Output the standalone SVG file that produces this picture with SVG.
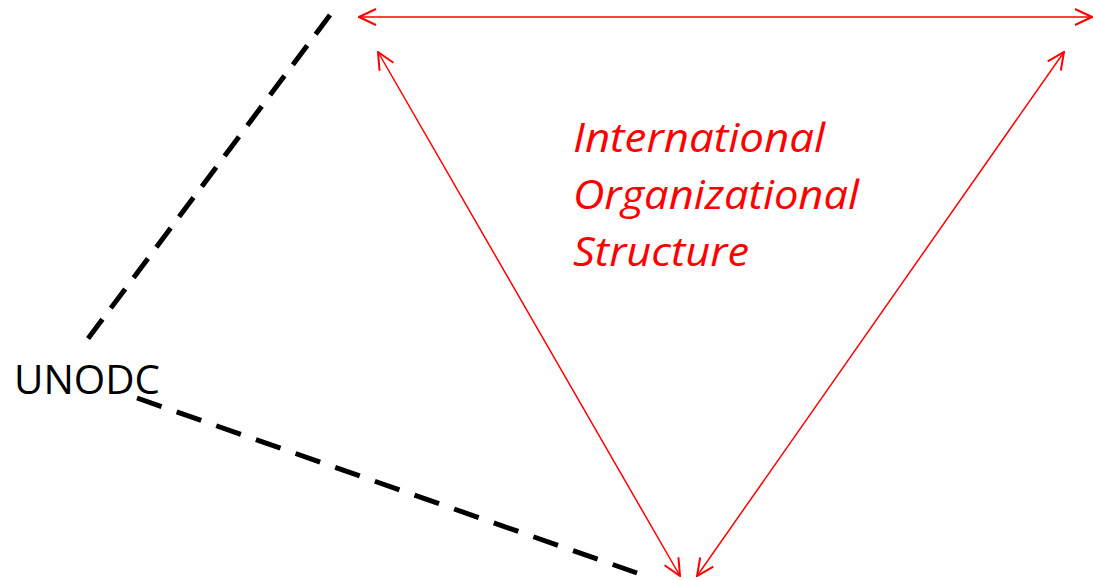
<svg xmlns="http://www.w3.org/2000/svg" width="1093" height="580" viewBox="0 0 1093 580">
<defs>
<style>
.red{stroke:#ff0000;stroke-width:1.5;fill:none}
.dash{stroke:#000;stroke-width:5;fill:none;stroke-dasharray:24,14}
.lbl{font-family:"Open Sans","Noto Sans",sans-serif;font-size:40px;fill:#ff0000;font-style:italic}
.node{font-family:"Open Sans","Noto Sans",sans-serif;font-size:40px;fill:#000}
</style>
<marker id="ah" viewBox="0 0 20 20" refX="19" refY="10" markerWidth="20" markerHeight="20" markerUnits="userSpaceOnUse" orient="auto-start-reverse">
<path d="M2,2 L19,10 L2,18" fill="none" stroke="#ff0000" stroke-width="2"/>
</marker>
</defs>
<rect width="1093" height="580" fill="#fff"/>
<g id="connectors">
<line class="red" x1="359" y1="17" x2="1092" y2="17" marker-start="url(#ah)" marker-end="url(#ah)"/>
<line class="red" x1="378" y1="52" x2="680" y2="576" marker-start="url(#ah)" marker-end="url(#ah)"/>
<line class="red" x1="1064" y1="52" x2="697" y2="576" marker-start="url(#ah)" marker-end="url(#ah)"/>
<line class="dash" x1="330" y1="15" x2="87" y2="340"/>
<line class="dash" x1="137" y1="398" x2="637" y2="573" style="stroke-dasharray:26,16"/>
</g>
<g id="unodc"><text class="node" x="14" y="394" textLength="146" lengthAdjust="spacingAndGlyphs">UNODC</text></g>
<g id="ios">
<text class="lbl" x="573" y="152" textLength="252" lengthAdjust="spacingAndGlyphs">International</text>
<text class="lbl" x="573" y="209" textLength="286" lengthAdjust="spacingAndGlyphs">Organizational</text>
<text class="lbl" x="573" y="266" textLength="176" lengthAdjust="spacingAndGlyphs">Structure</text>
</g>
</svg>
